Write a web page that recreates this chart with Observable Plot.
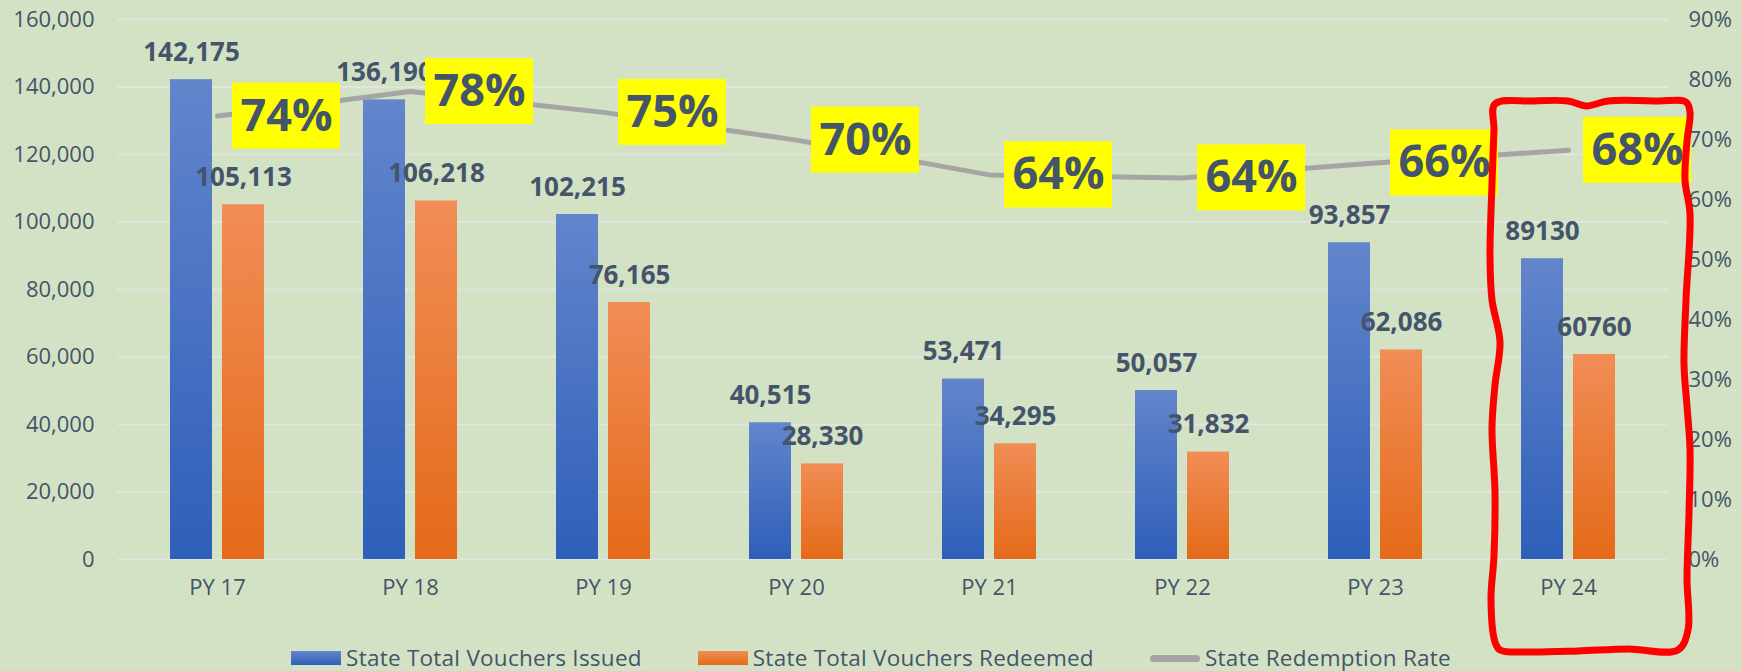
<!DOCTYPE html>
<html>
<head>
<meta charset="utf-8">
<script src="https://cdn.jsdelivr.net/npm/d3@7"></script>
<script src="https://cdn.jsdelivr.net/npm/@observablehq/plot@0.6"></script>
<style>
  html, body { margin: 0; padding: 0; background: #D3E2C4; }
  body { width: 1742px; height: 671px; overflow: hidden; font-family: "Open Sans", sans-serif; }
  #chart svg { display: block; overflow: visible; }
  #legend { height: 20px; padding-top: 8px; display: flex; justify-content: center; align-items: center; gap: 56px; color: #44546A; font-size: 22.5px; line-height: 20px; letter-spacing: 0.25px; }
  #legend .item { display: flex; align-items: center; gap: 5px; white-space: nowrap; }
  #legend .sw { width: 50px; height: 14px; }
  #legend .ln { width: 50px; height: 7px; border-radius: 4px; background: #A5A5A5; }
</style>
</head>
<body>
<div id="chart"></div>
<div id="legend"></div>
<script>
// ---- data ----
const categories = ["PY 17", "PY 18", "PY 19", "PY 20", "PY 21", "PY 22", "PY 23", "PY 24"];
const issued     = [142175, 136190, 102215, 40515, 53471, 50057, 93857, 89130];
const redeemed   = [105113, 106218, 76165, 28330, 34295, 31832, 62086, 60760];
const rates      = [0.739, 0.780, 0.7452, 0.699, 0.641, 0.636, 0.661, 0.682];
const plainLabelYears = ["PY 24"]; // labels shown without thousands separator
const countTicks = [0, 20000, 40000, 60000, 80000, 100000, 120000, 140000, 160000];
const pctTicks   = [0, 0.1, 0.2, 0.3, 0.4, 0.5, 0.6, 0.7, 0.8, 0.9];
const seriesNames = ["State Total Vouchers Issued", "State Total Vouchers Redeemed", "State Redemption Rate"];

// ---- derived ----
const countMax = 160000, pctMax = 0.9;
const toY = r => r * countMax / pctMax; // secondary axis mapping
const rows = categories.map((c, i) => ({category: c, issued: issued[i], redeemed: redeemed[i], rate: rates[i]}));
const comma = d3.format(",");
const labelOf = (d, v) => plainLabelYears.includes(d.category) ? String(v) : comma(v);
const pct = d3.format(".0%");

const textColor = "#44546A";

const chart = Plot.plot({
  width: 1742,
  height: 640,
  marginLeft: 117,
  marginRight: 74,
  marginTop: 19,
  marginBottom: 81,
  style: {fontFamily: "'Open Sans', sans-serif", fontSize: "22px", color: textColor, background: "transparent", overflow: "visible"},
  x: {type: "band", domain: categories, paddingInner: 0.783, paddingOuter: 0.3916, label: null},
  y: {domain: [0, countMax], label: null},
  marks: [
    Plot.gridY(countTicks, {stroke: "#E2E4E0", strokeOpacity: 1, strokeWidth: 2}),
    Plot.axisY(countTicks, {anchor: "left", tickSize: 0, tickPadding: 23, tickFormat: comma, label: null}),
    Plot.axisY(pctTicks.map(toY), {anchor: "right", tickSize: 0, tickPadding: 20, tickFormat: v => pct(Math.round(v / countMax * pctMax * 100) / 100), label: null}),
    Plot.axisX({tickSize: 0, tickPadding: 20, label: null}),
    Plot.barY(rows, {x: "category", y: "issued", dx: -26, fill: "url(#gradIssued)"}),
    Plot.barY(rows, {x: "category", y: "redeemed", dx: 26, fill: "url(#gradRedeemed)"}),
    Plot.text(rows, {x: "category", y: "issued", dx: -26, dy: -27, text: d => labelOf(d, d.issued), fontSize: 26, fontWeight: "bold", fill: textColor}),
    Plot.text(rows, {x: "category", y: "redeemed", dx: 26, dy: -27, text: d => labelOf(d, d.redeemed), fontSize: 26, fontWeight: "bold", fill: textColor}),
    Plot.line(rows, {x: "category", y: d => toY(d.rate), stroke: "#A5A5A5", strokeWidth: 5, strokeLinecap: "round", strokeLinejoin: "round"}),
    Plot.barY(rows, {x: "category", y1: d => toY(d.rate), y2: d => toY(d.rate), dx: 69, insetLeft: -33, insetRight: -33, insetTop: -33, insetBottom: -33, fill: "#FFFF00"}),
    Plot.text(rows, {x: "category", y: d => toY(d.rate), dx: 69, text: d => pct(d.rate), fontSize: 45, fontWeight: "bold", fill: textColor})
  ]
});

// gradients
const svg = d3.select(chart);
const defs = svg.insert("defs", ":first-child");
function grad(id, top, bottom) {
  const g = defs.append("linearGradient").attr("id", id).attr("x1", 0).attr("y1", 0).attr("x2", 0).attr("y2", 1);
  g.append("stop").attr("offset", "0%").attr("stop-color", top);
  g.append("stop").attr("offset", "100%").attr("stop-color", bottom);
}
grad("gradIssued", "#6385CC", "#2E5FB9");
grad("gradRedeemed", "#F18D56", "#E46A19");

// hand-drawn red highlight around the last period
const sx = chart.scale("x");
const cx = sx.apply(categories[categories.length - 1]) + sx.bandwidth / 2;
const wobble = [
  [-73, 104], [-35, 101], [0, 101], [18, 106], [40, 101], [90, 101], [118, 102],
  [122, 112], [119, 141], [117, 180], [122, 214], [118, 300], [116, 364], [119, 406], [122, 449], [121, 513], [119, 578], [120, 630],
  [110, 650], [60, 649], [10, 651], [-40, 652], [-68, 650],
  [-73, 642], [-77, 599], [-74, 556], [-73, 492], [-76, 428], [-73, 385], [-68, 342], [-76, 300], [-78, 257], [-76, 184], [-74, 130]
];
const path = d3.line().x(d => cx + d[0]).y(d => d[1]).curve(d3.curveCatmullRomClosed.alpha(0.5));
svg.append("path").attr("d", path(wobble)).attr("fill", "none").attr("stroke", "#FF0000").attr("stroke-width", 7).attr("stroke-linejoin", "round");

document.getElementById("chart").appendChild(chart);

// legend
const legend = document.getElementById("legend");
const swatches = [
  "background: linear-gradient(#6385CC, #2E5FB9)",
  "background: linear-gradient(#F18D56, #E46A19)",
  null
];
seriesNames.forEach((name, i) => {
  const item = document.createElement("div");
  item.className = "item";
  const sw = document.createElement("div");
  if (swatches[i]) { sw.className = "sw"; sw.setAttribute("style", swatches[i]); } else { sw.className = "ln"; }
  const t = document.createElement("span");
  t.textContent = name;
  item.appendChild(sw); item.appendChild(t);
  legend.appendChild(item);
});
</script>
</body>
</html>
